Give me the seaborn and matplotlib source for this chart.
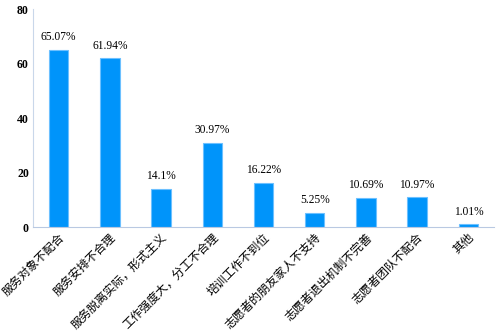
import matplotlib
matplotlib.use("Agg")
import matplotlib.pyplot as plt
import seaborn as sns
import pandas as pd

# data
categories = ["服务对象不配合", "服务安排不合理", "服务脱离实际，形式主义", "工作强度大，分工不合理",
              "培训工作不到位", "志愿者的朋友家人不支持", "志愿者退出机制不完善", "志愿者团队不配合", "其他"]
values = [65.07, 61.94, 14.1, 30.97, 16.22, 5.25, 10.69, 10.97, 1.01]
value_labels = ["65.07%", "61.94%", "14.1%", "30.97%", "16.22%", "5.25%", "10.69%", "10.97%", "1.01%"]
y_ticks = [0, 20, 40, 60, 80]

sns.set_theme(style="white")
plt.rcParams['font.family'] = ['Liberation Serif', 'Noto Sans CJK SC', 'DejaVu Sans']

df = pd.DataFrame({"cat": categories, "val": values})

fig = plt.figure(figsize=(5.02, 3.35), dpi=100)
ax = fig.add_axes([0.066, 0.322, 0.918, 0.651])

sns.barplot(data=df, x="cat", y="val", color="#0094fa", width=0.38,
            edgecolor="#6cc0ff", linewidth=0.8, saturation=1, ax=ax)

for i, (v, lab) in enumerate(zip(values, value_labels)):
    ax.text(i, v + 2.4, lab, ha="center", va="bottom", fontsize=8.3, color="black")

ax.set_xlim(-0.5, 8.5)
ax.set_ylim(0, 80)
ax.set_yticks(y_ticks)
ax.set_yticklabels([str(t) for t in y_ticks], fontsize=8.5, fontweight="bold", color="black")
ax.set_xticks(range(len(categories)))
ax.set_xticklabels(categories, rotation=45, ha="right", rotation_mode="anchor",
                   fontsize=8.5, color="black")
ax.tick_params(axis="both", length=0, pad=3)
ax.set_xlabel("")
ax.set_ylabel("")

for s in ["top", "right"]:
    ax.spines[s].set_visible(False)
ax.spines["left"].set_color("#c9d7ea")
ax.spines["bottom"].set_color("#b9c9e2")
ax.spines["left"].set_linewidth(0.8)
ax.spines["bottom"].set_linewidth(0.8)

fig.savefig("out.png", dpi=100)
